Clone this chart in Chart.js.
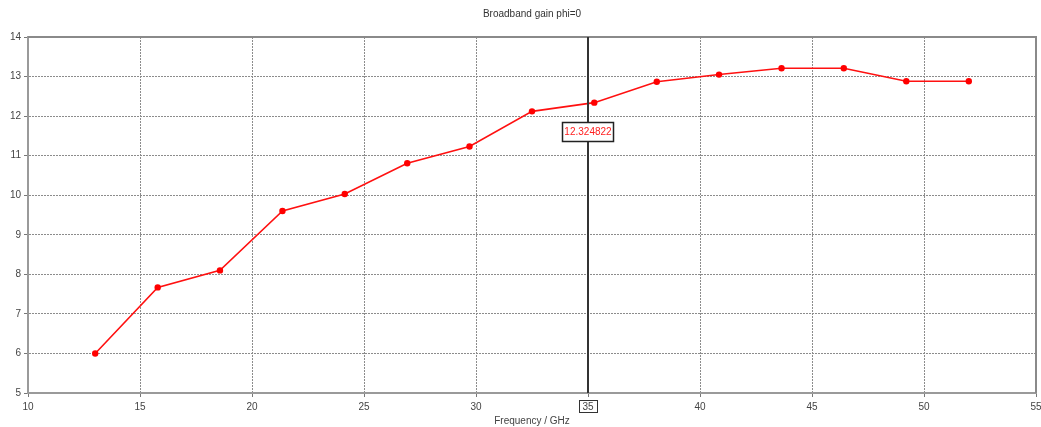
<!DOCTYPE html>
<html>
<head>
<meta charset="utf-8">
<script src="https://cdn.jsdelivr.net/npm/chart.js@4/dist/chart.umd.min.js"></script>
<style>
html,body{margin:0;padding:0;background:#fff;}
#wrap{width:1041px;height:427px;position:relative;}
</style>
</head>
<body>
<div id="wrap"><canvas id="c" width="1041" height="427"></canvas></div>
<script>
// ---- data ----
const chartTitle = "Broadband gain phi=0";
const xAxisTitle = "Frequency / GHz";
const frequencies = [13, 15.79, 18.57, 21.36, 24.14, 26.93, 29.71, 32.5, 35.28, 38.07, 40.85, 43.64, 46.42, 49.21, 52];
const gains = [6.0, 7.67, 8.10, 9.60, 10.03, 10.81, 11.23, 12.12, 12.34, 12.87, 13.05, 13.21, 13.21, 12.88, 12.88];
const xRange = [10, 55];
const yRange = [5, 14];
const markerX = 35;
const markerValue = 12.324822;
const markerLabel = "12.324822";

const FONT = "'Liberation Sans', Arial, sans-serif";

const markerPlugin = {
  id: 'marker',
  afterDatasetsDraw(chart) {
    const {ctx, chartArea, scales} = chart;
    const x = Math.round(scales.x.getPixelForValue(markerX));
    ctx.save();
    // frame top/right
    ctx.strokeStyle = '#8a8a8a';
    ctx.lineWidth = 2;
    ctx.beginPath();
    ctx.moveTo(chartArea.left, chartArea.top);
    ctx.lineTo(chartArea.right, chartArea.top);
    ctx.lineTo(chartArea.right, chartArea.bottom);
    ctx.stroke();
    // marker line
    ctx.strokeStyle = '#333';
    ctx.lineWidth = 2;
    ctx.beginPath();
    ctx.moveTo(x, chartArea.top);
    ctx.lineTo(x, chartArea.bottom);
    ctx.stroke();
    // value box
    const yv = scales.y.getPixelForValue(markerValue);
    const cy = Math.round(yv + 29);
    ctx.font = "10px " + FONT;
    const tw = ctx.measureText(markerLabel).width;
    const bw = Math.round(tw + 5), bh = 20;
    const bx = Math.round(x - bw / 2);
    const by = cy - bh / 2;
    ctx.fillStyle = '#fff';
    ctx.fillRect(bx, by, bw, bh);
    ctx.strokeStyle = '#222';
    ctx.lineWidth = 1.5;
    ctx.strokeRect(bx + 0.5, by + 0.5, bw - 1, bh - 1);
    ctx.fillStyle = '#ff2020';
    ctx.textAlign = 'center';
    ctx.textBaseline = 'middle';
    ctx.fillText(markerLabel, x, cy + 0.5);
    // boxed tick label at marker
    ctx.font = "10px " + FONT;
    const lw = ctx.measureText(String(markerX)).width;
    const lbw = Math.round(lw + 7), lbh = 12;
    ctx.strokeStyle = '#333';
    ctx.lineWidth = 1;
    ctx.strokeRect(Math.round(x - lbw / 2) + 0.5, chartArea.bottom + 7.5, lbw, lbh);
    ctx.restore();
  }
};

new Chart(document.getElementById('c'), {
  type: 'line',
  data: {
    datasets: [{
      data: frequencies.map((f, i) => ({x: f, y: gains[i]})),
      borderColor: '#ff1010',
      backgroundColor: '#ff0000',
      borderWidth: 1.6,
      pointRadius: 3.2,
      pointBorderWidth: 0,
      pointBackgroundColor: '#ff0000',
      tension: 0,
      fill: false
    }]
  },
  options: {
    responsive: false,
    animation: false,
    devicePixelRatio: 1,
    layout: {padding: {left: 0, right: 5, top: 0, bottom: 0}},
    plugins: {
      legend: {display: false},
      tooltip: {enabled: false},
      title: {
        display: true,
        text: chartTitle,
        fullSize: false,
        color: '#333',
        font: {family: FONT, size: 10, weight: 'normal', lineHeight: 1.2},
        padding: {top: 8, bottom: 17}
      }
    },
    scales: {
      x: {
        type: 'linear',
        min: xRange[0], max: xRange[1],
        afterFit(s) { s.height = 34; s.paddingRight = 0; s.paddingLeft = 0; },
        ticks: {stepSize: 5, color: '#444', font: {family: FONT, size: 10}, padding: 4, maxRotation: 0},
        grid: {color: '#8c8c8c', tickLength: 4, tickColor: '#777', tickBorderDash: []},
        border: {display: true, color: '#9a9a9a', width: 2, dash: [2, 1]},
        title: {display: true, text: xAxisTitle, color: '#444', font: {family: FONT, size: 10}, padding: {top: 0, bottom: 0}}
      },
      y: {
        type: 'linear',
        min: yRange[0], max: yRange[1],
        afterFit(s) { s.width = 28; s.paddingTop = 0; s.paddingBottom = 0; },
        ticks: {stepSize: 1, color: '#444', font: {family: FONT, size: 10}, padding: 3},
        grid: {color: '#8c8c8c', tickLength: 4, tickColor: '#777', tickBorderDash: []},
        border: {display: true, color: '#9a9a9a', width: 2, dash: [2, 1]}
      }
    }
  },
  plugins: [markerPlugin]
});
</script>
</body>
</html>
